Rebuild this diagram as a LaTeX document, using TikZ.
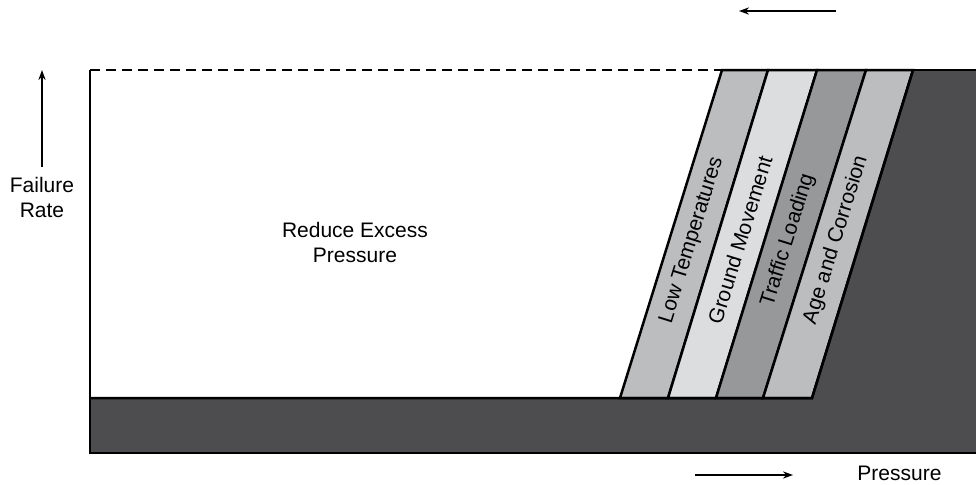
\documentclass[tikz,border=0pt]{standalone}
\usepackage{fontspec}
\setmainfont{Liberation Sans}
\usetikzlibrary{arrows.meta}
\definecolor{darkfill}{HTML}{4D4D4F}
\definecolor{bandA}{HTML}{BCBDBF}
\definecolor{bandB}{HTML}{DCDDDE}
\definecolor{bandC}{HTML}{97989A}
\tikzset{
  outline/.style={line width=1.25pt, line join=miter},
  band/.style={outline, draw=black},
  axisarrow/.style={line width=0.7pt, -{Stealth[length=5pt,width=3.6pt]}},
  label/.style={font=\fontsize{10.5}{12.5}\selectfont, align=center, inner sep=0pt},
  bandlabel/.style={label, rotate=72.8},
}
\begin{document}
\begin{tikzpicture}[x=0.5pt,y=-0.5pt]
\useasboundingbox (0,0) rectangle (976,484);

% corner points of the slanted bands (top row / bottom row)
\coordinate (t0) at (722,70);  \coordinate (b0) at (620,398);
\coordinate (t1) at (768,70);  \coordinate (b1) at (668,398);
\coordinate (t2) at (817,70);  \coordinate (b2) at (716,398);
\coordinate (t3) at (866,70);  \coordinate (b3) at (763,398);
\coordinate (t4) at (913,70);  \coordinate (b4) at (812,398);

% dark base and right-hand region
\fill[darkfill] (90,398) -- (b4) -- (t4) -- (976,70) -- (976,453) -- (90,453) -- cycle;

% slanted bands
\filldraw[band, fill=bandA] (b0) -- (t0) -- (t1) -- (b1) -- cycle;
\filldraw[band, fill=bandB] (b1) -- (t1) -- (t2) -- (b2) -- cycle;
\filldraw[band, fill=bandC] (b2) -- (t2) -- (t3) -- (b3) -- cycle;
\filldraw[band, fill=bandA] (b3) -- (t3) -- (t4) -- (b4) -- cycle;

% outlines of the chart area
\draw[outline] (90,70) -- (90,453) -- (976,453);
\draw[outline] (90,398) -- (b4) -- (t4);
\draw[outline] (t0) -- (976,70);
\draw[outline, dash pattern=on 5pt off 3pt] (90,70) -- (t0);

% band labels
\node[bandlabel] (lowtemp) at (692,240) {Low Temperatures};
\node[bandlabel] (ground)  at (740,240) {Ground Movement};
\node[bandlabel] (traffic) at (788,240) {Traffic Loading};
\node[bandlabel] (age)     at (836,240) {Age and Corrosion};

% region label
\node[label] (reduce) at (355,242) {Reduce Excess\\Pressure};

% vertical axis
\node[label] (failure) at (42,197) {Failure\\Rate};
\coordinate (yfrom) at (42,167);
\coordinate (yto) at (42,70);
\draw[axisarrow] (yfrom) -- (yto);

% horizontal axis
\node[label, anchor=west] (pressure) at (857,473) {Pressure};
\coordinate (xfrom) at (695,475);
\coordinate (xto) at (793,475);
\draw[axisarrow] (xfrom) -- (xto);

% arrow above the bands
\coordinate (tfrom) at (836,11);
\coordinate (tto) at (739,11);
\draw[axisarrow] (tfrom) -- (tto);
\end{tikzpicture}
\end{document}
